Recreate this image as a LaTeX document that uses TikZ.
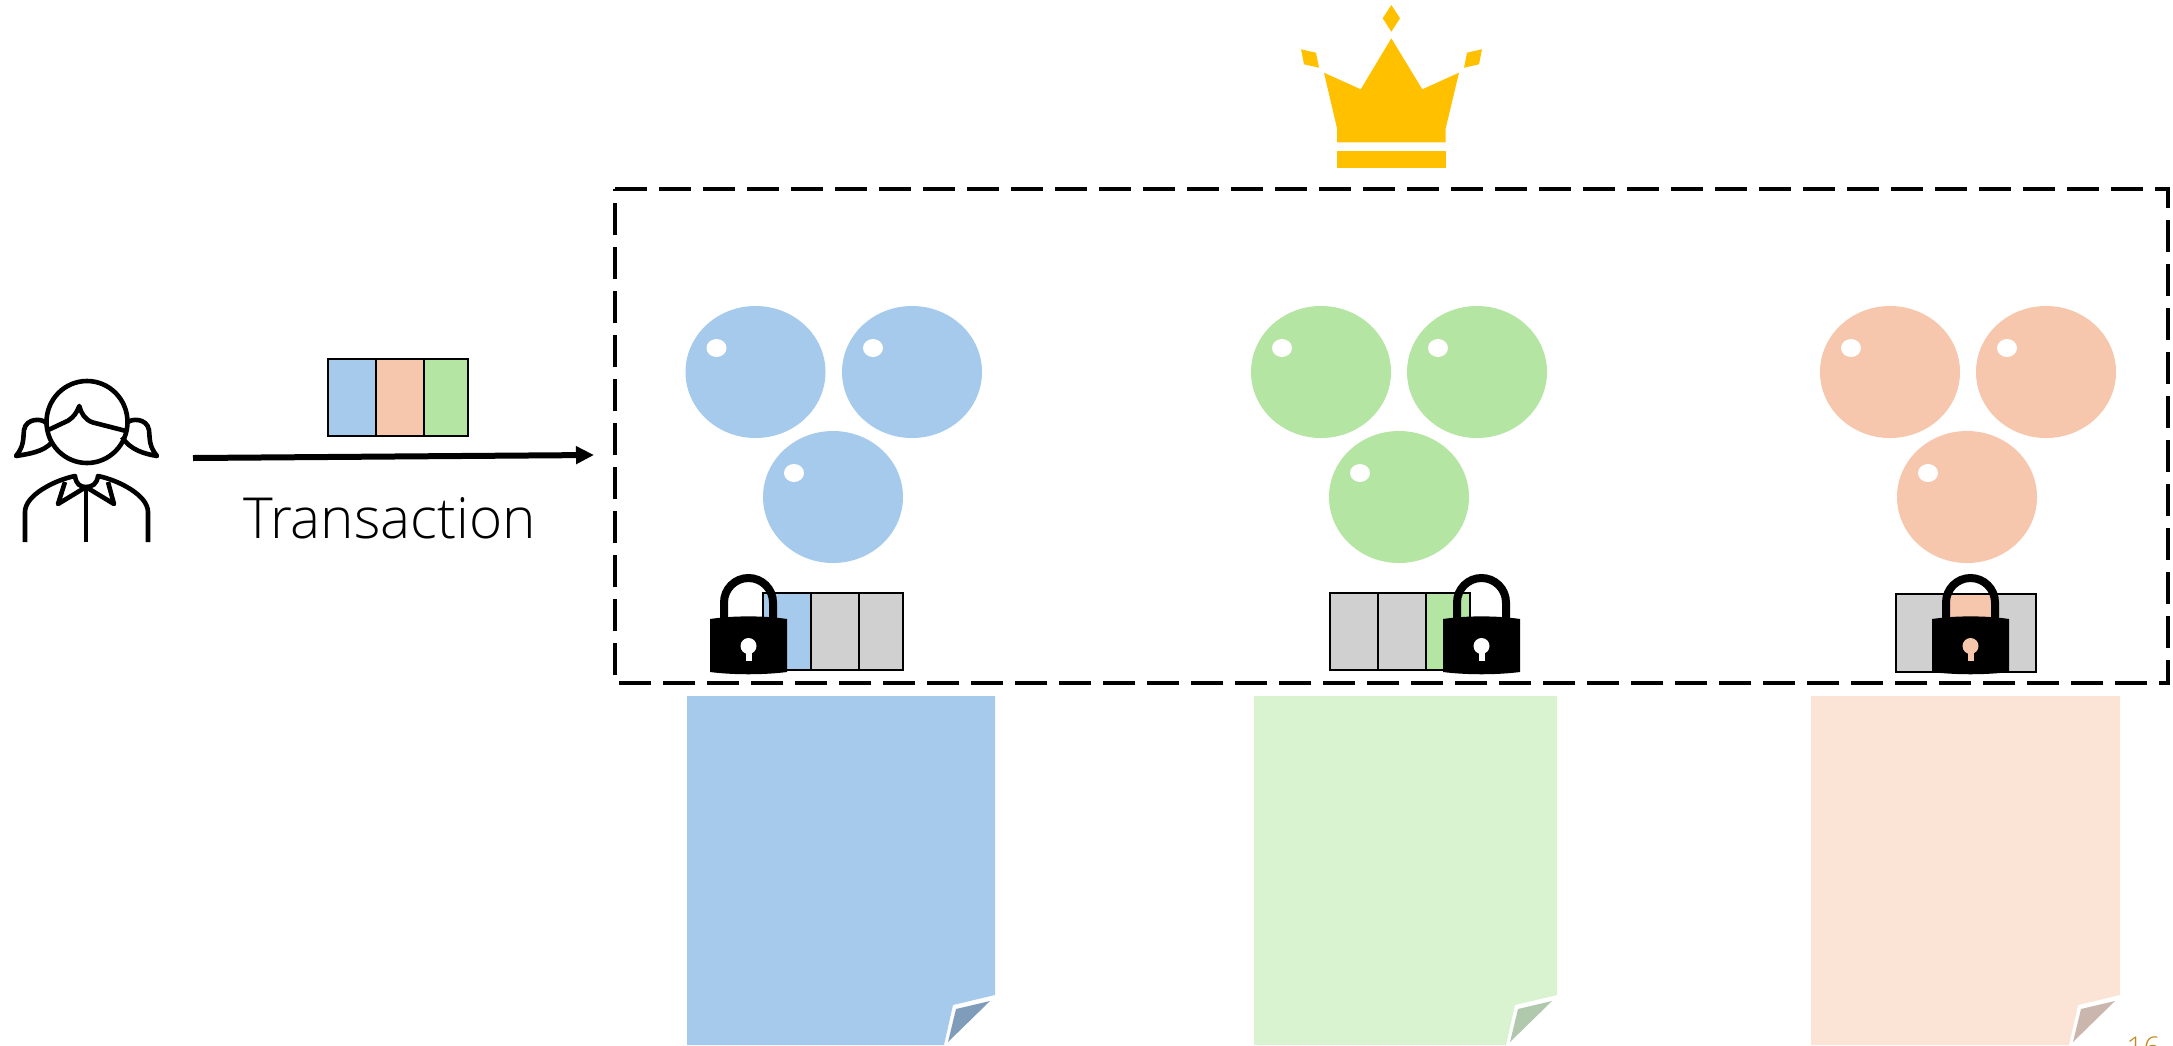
\documentclass[tikz,border=0pt]{standalone}
\usepackage{fontspec}
\usepackage{tikz}
\usetikzlibrary{shapes.geometric, arrows.meta, positioning, calc}
\newfontfamily\labelfont{Open Sans Light}

\definecolor{txblue}{HTML}{A6CAEC}
\definecolor{txgreen}{HTML}{B4E5A2}
\definecolor{txpink}{HTML}{F6C6AD}
\definecolor{docgreen}{HTML}{D9F2D0}
\definecolor{docpink}{HTML}{FBE3D6}
\definecolor{foldblue}{HTML}{7F9DBB}
\definecolor{foldgreen}{HTML}{B0C8AC}
\definecolor{foldpink}{HTML}{CBB6AD}
\definecolor{cellgrey}{HTML}{D0D0D0}
\definecolor{crowngold}{HTML}{FFC000}
\definecolor{pagegold}{HTML}{C08A20}

\tikzset{
    ball/.style={ellipse, inner sep=0pt, outer sep=0pt, minimum width=70pt, minimum height=66pt},
    shine/.style={ellipse, fill=white, inner sep=0pt, minimum width=10pt, minimum height=9pt},
    cellbox/.style={draw=black, line width=1.4pt, inner sep=0pt, outer sep=0pt, minimum width=24pt, minimum height=38.5pt},
    lastcell/.style={cellbox, minimum width=22pt},
    usericon/.style={line width=2.3pt, line join=round},
}

% padlock centred on x, with the colour of its keyhole
\newcommand{\lockicon}[2]{
    \begin{scope}[shift={(#1,0)}]
        \draw [line width=4pt] (-24.5,625) -- (-24.5,602.5) arc (180:0:12.25pt) -- (24.5,625);
        \fill [black] (-38.5,619) .. controls (-15,615.5) and (15,615.5) .. (38.5,619) -- (38.5,672) .. controls (15,675) and (-15,675) .. (-38.5,672) -- cycle;
        \fill [#2] (0,646) circle (4pt);
        \fill [#2] (-3,648) rectangle (3,661);
    \end{scope}
}

% sheet with a turned corner, x = its right edge, then its width
\newcommand{\docsheet}[4]{
    \begin{scope}[shift={(#1,0)}]
        \fill [#3] (-#2,696) -- (0,696) -- (0,995) -- (-42,1005) -- (-51,1045) -- (-#2,1045) -- cycle;
        \fill [#4] (-5,1001) -- (-39,1009) -- (-47,1042) -- cycle;
    \end{scope}
}

\begin{document}
\begin{tikzpicture}[x=0.5pt, y=-0.5pt]
    \useasboundingbox (0,0) rectangle (2173,1045);
    \clip (0,0) rectangle (2173,1045);

    % user
    \draw [usericon] (87,422) ellipse (20.25pt and 20.5pt);
    \draw [usericon] (46.7,430.7) -- (68,420.7) .. controls (74,417) and (77,412) .. (79.3,406) .. controls (81,413) and (85,420) .. (93,422.5) -- (125,430.7);
    \draw [usericon] (46,423) .. controls (42,418) and (26,418) .. (24,430) .. controls (23,440) and (24,446) .. (16,456) .. controls (28,454) and (44,452) .. (52,442);
    \draw [usericon] (127,423) .. controls (131,418) and (147,418) .. (149,430) .. controls (150,440) and (149,446) .. (157,456) .. controls (145,454) and (130,450) .. (122,437);
    \draw [usericon] (25,542) -- (25,512) .. controls (25,495) and (55,480) .. (75,476) .. controls (76,484) and (80,487) .. (86,487) .. controls (92,487) and (97,484) .. (98,476) .. controls (118,480) and (148,495) .. (148,512) -- (148,542);
    \draw [usericon] (65,482) -- (58,504) -- (86,487) -- (114,504) -- (108,482);
    \draw [usericon] (86,487) -- (86,542);

    % transaction
    \node (txA) [cellbox, fill=txblue, anchor=north west] at (328,359) {};
    \node (txB) [cellbox, fill=txpink, right=0pt of txA] {};
    \node (txC) [lastcell, fill=txgreen, right=0pt of txB] {};
    \coordinate (txstart) at (193,458);
    \coordinate (txend) at (594,455);
    \draw [line width=3pt, -{Triangle[length=9pt, width=8.5pt]}] (txstart) -- (txend);
    \node (txlabel) [anchor=base, inner sep=0pt, font=\labelfont\fontsize{28.3}{29}\selectfont] at (389.5,538) {Transaction};

    % crown
    \fill [crowngold] (1324,72.7) -- (1360.7,89.3) -- (1391.3,38.3) -- (1422.3,89.3) -- (1459,72.7) -- (1445.7,128.3) -- (1445.7,142.3) -- (1337,142.3) -- (1337,128.3) -- cycle;
    \fill [crowngold] (1337,151) rectangle (1445.7,168.3);
    \fill [crowngold] (1391.3,5) -- (1400,18.3) -- (1391.3,31.7) -- (1382.7,18.3) -- cycle;
    \fill [crowngold] (1301,49.3) -- (1316,52.7) -- (1319,67.7) -- (1304,64.3) -- cycle;
    \fill [crowngold] (1482,49.3) -- (1467,52.7) -- (1464,67.7) -- (1479,64.3) -- cycle;

    % committee box
    \draw [line width=2.3pt, dash pattern=on 16pt off 6pt] (615,189) -- (2168,189) -- (2168,683) -- (615,683) -- cycle;

    % blue shard
    \node (blueA) [ball, fill=txblue] at (755.5,372) {};
    \node (blueB) [ball, fill=txblue] at (912,372) {};
    \node (blueC) [ball, fill=txblue] at (833,497) {};
    \node (blueAshine) [shine] at ($(blueA)+(-39,-24)$) {};
    \node (blueBshine) [shine] at ($(blueB)+(-39,-24)$) {};
    \node (blueCshine) [shine] at ($(blueC)+(-39,-24)$) {};
    \node (blueCellA) [cellbox, fill=txblue, anchor=north west] at (763,593) {};
    \node (blueCellB) [cellbox, fill=cellgrey, right=0pt of blueCellA] {};
    \node (blueCellC) [lastcell, fill=cellgrey, right=0pt of blueCellB] {};
    \lockicon{748.5}{white}

    % green shard
    \node (greenA) [ball, fill=txgreen] at (1321,372) {};
    \node (greenB) [ball, fill=txgreen] at (1477,372) {};
    \node (greenC) [ball, fill=txgreen] at (1399,497) {};
    \node (greenAshine) [shine] at ($(greenA)+(-39,-24)$) {};
    \node (greenBshine) [shine] at ($(greenB)+(-39,-24)$) {};
    \node (greenCshine) [shine] at ($(greenC)+(-39,-24)$) {};
    \node (greenCellA) [cellbox, fill=cellgrey, anchor=north west] at (1330,593) {};
    \node (greenCellB) [cellbox, fill=cellgrey, right=0pt of greenCellA] {};
    \node (greenCellC) [lastcell, fill=txgreen, right=0pt of greenCellB] {};
    \lockicon{1481.5}{white}

    % pink shard
    \node (pinkA) [ball, fill=txpink] at (1890,372) {};
    \node (pinkB) [ball, fill=txpink] at (2046,372) {};
    \node (pinkC) [ball, fill=txpink] at (1967,497) {};
    \node (pinkAshine) [shine] at ($(pinkA)+(-39,-24)$) {};
    \node (pinkBshine) [shine] at ($(pinkB)+(-39,-24)$) {};
    \node (pinkCshine) [shine] at ($(pinkC)+(-39,-24)$) {};
    \node (pinkCellA) [cellbox, fill=cellgrey, anchor=north west, minimum height=39pt] at (1896,594) {};
    \node (pinkCellB) [cellbox, fill=txpink, minimum height=39pt, right=0pt of pinkCellA] {};
    \node (pinkCellC) [lastcell, fill=cellgrey, minimum height=39pt, right=0pt of pinkCellB] {};
    \lockicon{1970.5}{txpink}

    % ledgers
    \docsheet{995}{308}{txblue}{foldblue}
    \docsheet{1557}{303}{docgreen}{foldgreen}
    \docsheet{2120}{309}{docpink}{foldpink}

    \node (pagenum) [anchor=base west, inner sep=0pt, text=pagegold, font=\labelfont\fontsize{15}{15}\selectfont] at (2126,1058) {16};
\end{tikzpicture}
\end{document}
